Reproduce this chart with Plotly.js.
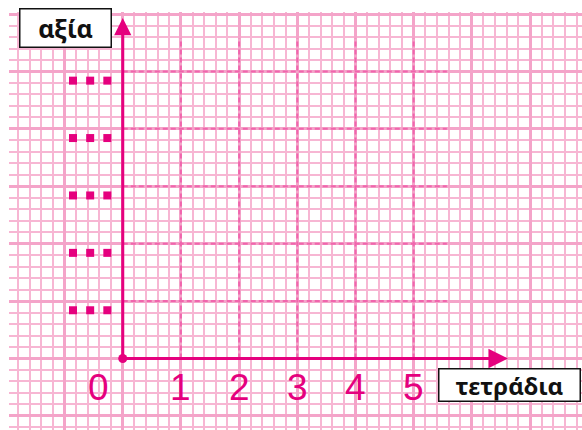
<!DOCTYPE html>
<html>
<head>
<meta charset="utf-8">
<script src="https://cdn.plot.ly/plotly-3.0.1.min.js"></script>
<style>
  html, body { margin: 0; padding: 0; background: #ffffff; }
  #chart { width: 582px; height: 430px; }
</style>
</head>
<body>
<div id="chart"></div>
<script>
// ---- data ----
const xTicks = [0, 1, 2, 3, 4, 5];
const xTickLabels = ['0', '1', '2', '3', '4', '5'];
const yTicks = [1, 2, 3, 4, 5];
const yPlaceholderDots = [0, 1, 2];       // three dots stand in for each y value
const xTitle = 'τετράδια';
const yTitle = 'αξία';

// ---- styles ----
const MAGENTA = '#e5007e';
const DASH = '#f065ad';
const GRID_MINOR = '#f7b6d3';
const GRID_MAJOR = '#f4a4c9';

const traces = [];

// dashed guide lines
const dx = [], dy = [];
xTicks.filter(v => v > 0).forEach(v => { dx.push(v, v, null); dy.push(0, 5.58, null); });
yTicks.forEach(v => { dx.push(0, 5.57, null); dy.push(v, v, null); });
traces.push({
  x: dx, y: dy, mode: 'lines', hoverinfo: 'skip', showlegend: false,
  line: { color: DASH, width: 2, dash: '5px,3px' }
});

// placeholder dots for y labels
const px = [], py = [];
yTicks.forEach(v => {
  yPlaceholderDots.forEach(i => { px.push(-0.855 + i * 0.295); py.push(v - 0.16); });
});
traces.push({
  x: px, y: py, mode: 'markers', hoverinfo: 'skip', showlegend: false,
  marker: { symbol: 'square', size: 8, color: MAGENTA }
});

// origin dot
traces.push({
  x: [xTicks[0]], y: [0], mode: 'markers', hoverinfo: 'skip', showlegend: false,
  marker: { symbol: 'circle', size: 9, color: MAGENTA }
});

const annotations = [];

// axes as arrows
annotations.push({
  x: 0, y: 5.93, ax: 0, ay: 0, xref: 'x', yref: 'y', axref: 'x', ayref: 'y',
  text: '', showarrow: true, arrowhead: 2, arrowwidth: 3, arrowsize: 1.15,
  arrowcolor: MAGENTA, standoff: 0, startstandoff: 0
});
annotations.push({
  x: 6.62, y: 0, ax: 0, ay: 0, xref: 'x', yref: 'y', axref: 'x', ayref: 'y',
  text: '', showarrow: true, arrowhead: 2, arrowwidth: 3, arrowsize: 1.3,
  arrowcolor: MAGENTA, standoff: 0, startstandoff: 0
});

// x tick labels
xTicks.forEach((v, i) => {
  annotations.push({
    x: v, y: -0.5, xref: 'x', yref: 'y', text: xTickLabels[i], showarrow: false,
    xshift: v === 0 ? -24 : 0,
    font: { family: 'Liberation Sans, Arial, sans-serif', size: 37, color: MAGENTA }
  });
});

// titles in boxes
annotations.push({
  x: -0.99, y: 5.76, xref: 'x', yref: 'y', text: '<b>' + yTitle + '</b>', showarrow: false,
  width: 90, height: 37, align: 'center', valign: 'middle',
  bgcolor: '#ffffff', bordercolor: '#111111', borderwidth: 1.5, borderpad: 0,
  font: { family: 'Noto Sans, Open Sans, sans-serif', size: 25, color: '#111111' }
});
annotations.push({
  x: 6.655, y: -0.46, xref: 'x', yref: 'y', text: '<b>' + xTitle + '</b>', showarrow: false,
  width: 140, height: 31, align: 'center', valign: 'middle',
  bgcolor: '#ffffff', bordercolor: '#111111', borderwidth: 1.5, borderpad: 0,
  font: { family: 'Noto Sans, Open Sans, sans-serif', size: 24, color: '#111111' }
});

const layout = {
  width: 582, height: 430,
  margin: { l: 9, r: 0, t: 12, b: 0, pad: 0 },
  paper_bgcolor: '#ffffff', plot_bgcolor: '#ffffff',
  showlegend: false,
  xaxis: {
    range: [-1.955, 7.893], tick0: 0, dtick: 1,
    showgrid: true, gridcolor: GRID_MAJOR, gridwidth: 3,
    minor: { tick0: 0, dtick: 0.2, showgrid: true, gridcolor: GRID_MINOR, gridwidth: 2 },
    zeroline: false, showticklabels: false, ticks: '', showline: false, fixedrange: true
  },
  yaxis: {
    range: [-1.246, 6.036], tick0: 0, dtick: 1,
    showgrid: true, gridcolor: GRID_MAJOR, gridwidth: 3,
    minor: { tick0: 0, dtick: 0.2, showgrid: true, gridcolor: GRID_MINOR, gridwidth: 2 },
    zeroline: false, showticklabels: false, ticks: '', showline: false, fixedrange: true
  },
  annotations: annotations
};

Plotly.newPlot('chart', traces, layout, { displayModeBar: false, staticPlot: true });
</script>
</body>
</html>
